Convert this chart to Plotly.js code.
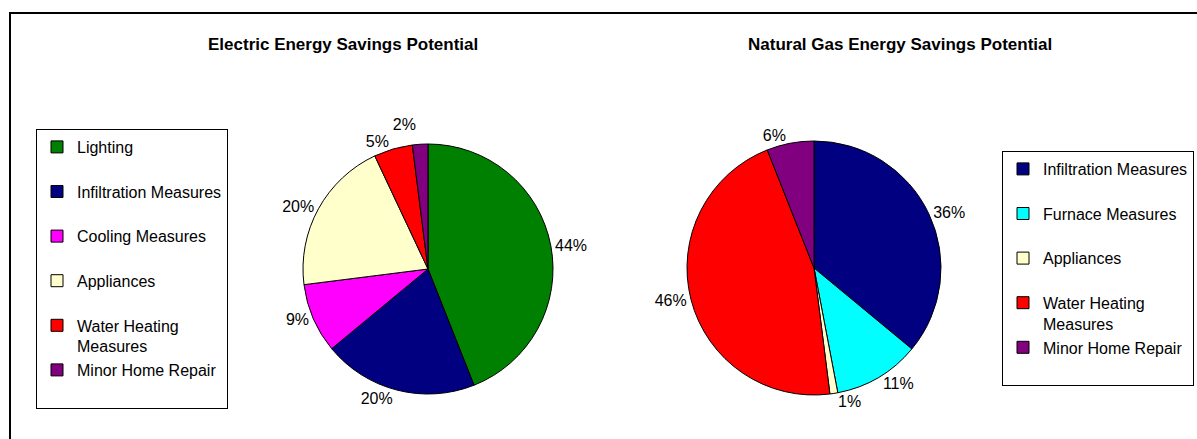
<!DOCTYPE html>
<html>
<head>
<meta charset="utf-8">
<script src="https://cdn.plot.ly/plotly-3.0.1.min.js"></script>
<style>
  html, body { margin: 0; padding: 0; background: #fff; }
  #chart { width: 1197px; height: 439px; }
  /* percent labels sit beside their slices without leader lines */
  #chart path.textline { display: none; }
</style>
</head>
<body>
<div id="chart"></div>
<script>
// Electric savings by measure (percent of total)
const electricCategories = ['Lighting', 'Infiltration Measures', 'Cooling Measures', 'Appliances', 'Water Heating Measures', 'Minor Home Repair'];
const electricValues = [44, 20, 9, 20, 5, 2];
const electricColors = ['#008000', '#000080', '#FF00FF', '#FFFFCC', '#FF0000', '#800080'];

// Natural gas savings by measure (percent of total)
const gasCategories = ['Infiltration Measures', 'Furnace Measures', 'Appliances', 'Water Heating Measures', 'Minor Home Repair'];
const gasValues = [36, 11, 1, 46, 6];
const gasColors = ['#000080', '#00FFFF', '#FFFFCC', '#FF0000', '#800080'];

const electricTitle = 'Electric Energy Savings Potential';
const gasTitle = 'Natural Gas Energy Savings Potential';

const W = 1197, H = 439;
const FONT = 'Liberation Sans, Arial, sans-serif';

// pixel helpers -> paper fractions (margins are zero, so paper = whole figure)
const px = v => v / W;
const py = v => 1 - v / H;

// Every legend entry spans two lines so the entries are evenly spaced;
// long names wrap onto the second line.
function legendLabel(name) {
  if (name.length > 21) {
    const words = name.split(' ');
    return words.slice(0, -1).join(' ') + '<br>' + words[words.length - 1];
  }
  return name + '<br>&nbsp;';
}

const pieCommon = {
  type: 'pie',
  sort: false,
  direction: 'clockwise',
  rotation: 0,
  textposition: 'outside',
  texttemplate: '%{percent:.0%}',
  outsidetextfont: { family: FONT, size: 16, color: '#000' },
  hoverinfo: 'label+percent',
  showlegend: true
};

const electricPie = Object.assign({}, pieCommon, {
  labels: electricCategories.map(legendLabel),
  values: electricValues,
  marker: { colors: electricColors, line: { color: '#000', width: 1 } },
  domain: { x: [px(303), px(553)], y: [py(394), py(144)] },
  legend: 'legend',
  legendgroup: 'electric'
});

const gasPie = Object.assign({}, pieCommon, {
  labels: gasCategories.map(legendLabel),
  values: gasValues,
  marker: { colors: gasColors, line: { color: '#000', width: 1 } },
  domain: { x: [px(687), px(941)], y: [py(395), py(141)] },
  legend: 'legend2',
  legendgroup: 'gas'
});

const legendStyle = {
  font: { family: FONT, size: 16, color: '#000' },
  bgcolor: '#fff',
  bordercolor: '#000',
  borderwidth: 1,
  valign: 'top',
  xanchor: 'left',
  yanchor: 'top',
  tracegroupgap: 0
};

const titleFont = { family: FONT, size: 17, weight: 700, color: '#000' };

const layout = {
  width: W,
  height: H,
  margin: { l: 0, r: 0, t: 0, b: 0 },
  paper_bgcolor: '#fff',
  plot_bgcolor: '#fff',
  font: { family: FONT, color: '#000' },
  legend: Object.assign({}, legendStyle, { x: px(36), y: py(129) }),
  legend2: Object.assign({}, legendStyle, { x: px(1002), y: py(151) }),
  annotations: [
    { text: electricTitle, x: px(206), y: py(44), xref: 'paper', yref: 'paper',
      xanchor: 'left', yanchor: 'middle', showarrow: false, font: titleFont },
    { text: gasTitle, x: px(746), y: py(44), xref: 'paper', yref: 'paper',
      xanchor: 'left', yanchor: 'middle', showarrow: false, font: titleFont }
  ],
  shapes: [
    // chart frame
    { type: 'rect', xref: 'paper', yref: 'paper',
      x0: px(10), x1: px(W + 4), y0: py(H + 4), y1: py(13),
      line: { color: '#000', width: 2 }, fillcolor: 'rgba(0,0,0,0)' }
  ]
};

Plotly.newPlot('chart', [electricPie, gasPie], layout, { displayModeBar: false, responsive: false });
</script>
</body>
</html>
